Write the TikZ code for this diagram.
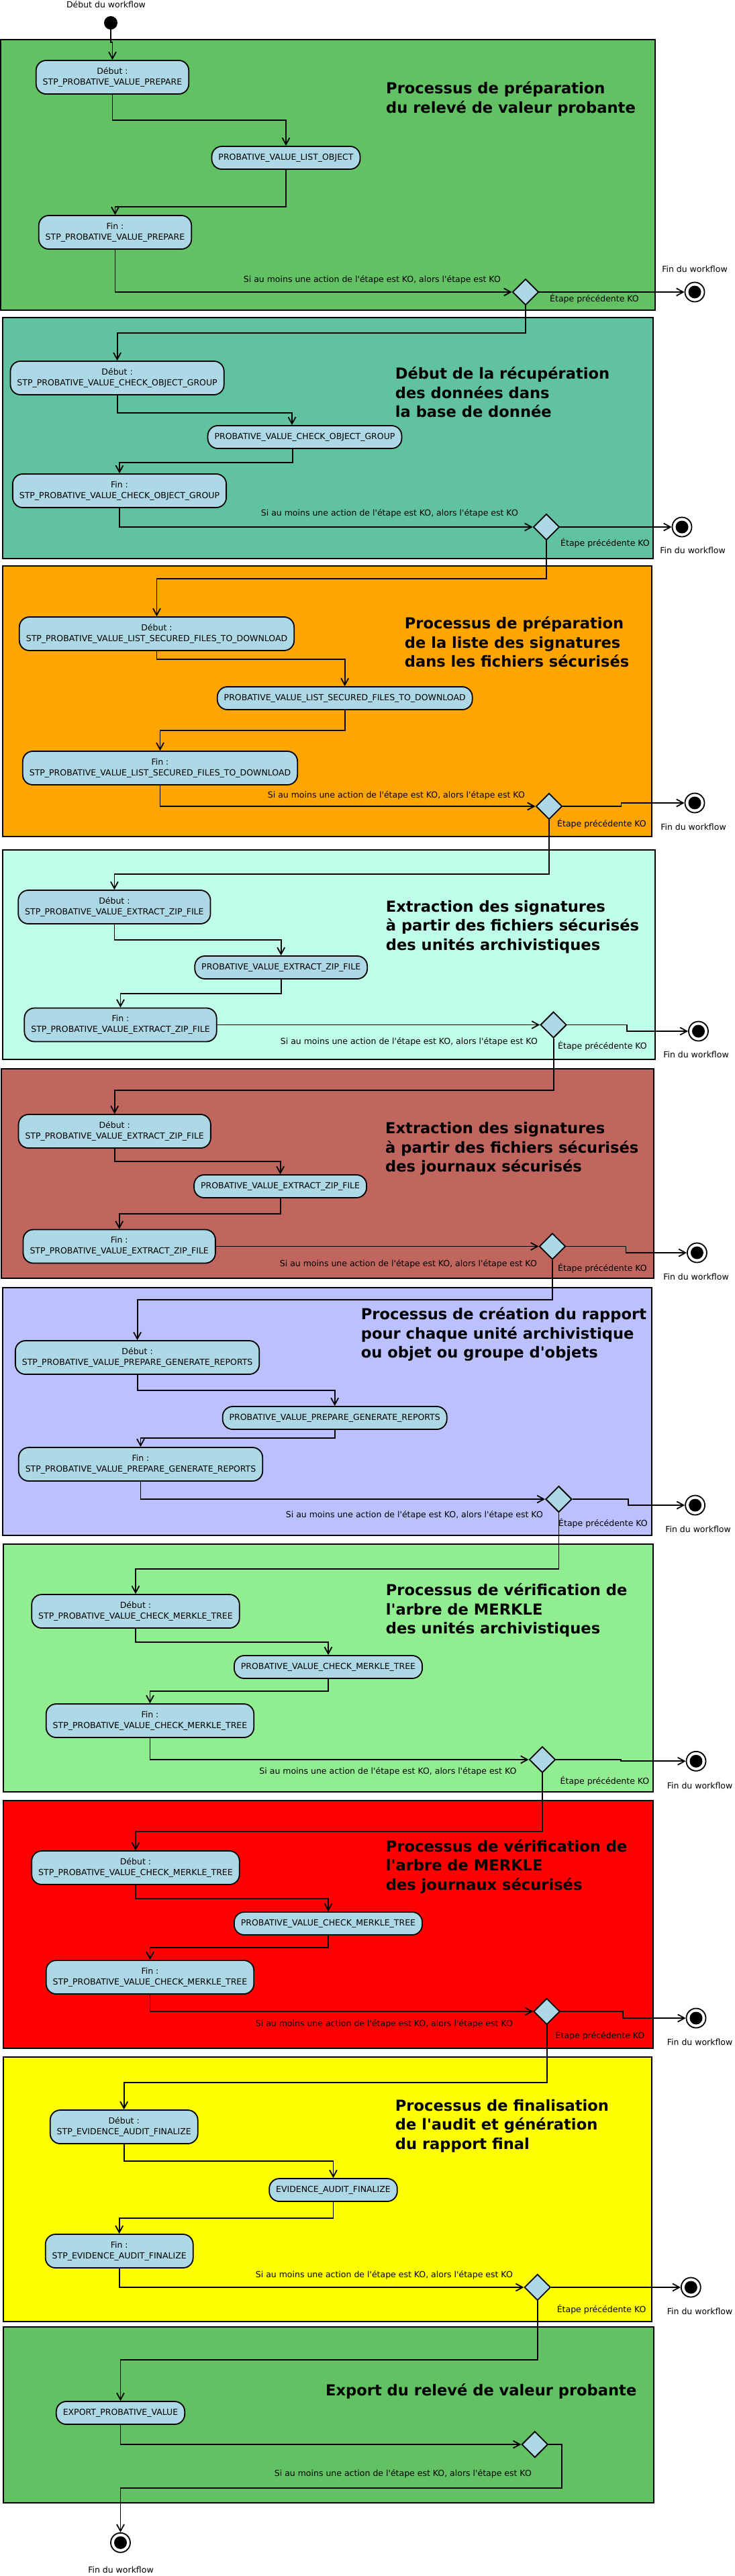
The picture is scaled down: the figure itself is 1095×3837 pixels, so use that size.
\documentclass[tikz,border=0pt]{standalone}
\usepackage{fontspec}
\setmainfont{DejaVu Sans}
\usepackage{xcolor}
\usepackage{tikz}
\usetikzlibrary{positioning,arrows.meta,shapes.geometric}

\definecolor{boxblue}{HTML}{ADD8E6}
\definecolor{vertA}{HTML}{62C162}
\definecolor{turquoise}{HTML}{61C2A2}
\definecolor{orangeA}{HTML}{FFA500}
\definecolor{menthe}{HTML}{BFFFEA}
\definecolor{brique}{HTML}{C1665F}
\definecolor{lavande}{HTML}{BBC1FF}
\definecolor{vertclair}{HTML}{90EE90}
\definecolor{rouge}{HTML}{FF0000}
\definecolor{jaune}{HTML}{FFFF00}

\newcommand{\apo}{\textquotesingle}
\newcommand{\siko}{Si au moins une action de l\apo étape est KO, alors l\apo étape est KO}
\newcommand{\etko}{Étape précédente KO}

\begin{document}
\begin{tikzpicture}[x=1pt,y=-1pt,>={Straight Barb[length=10pt,width=11pt]}]
  \tikzstyle{cadre}=[draw,line width=2pt]
  \tikzstyle{etape}=[draw,line width=1.8pt,fill=boxblue,rounded corners=15pt,align=center,
    inner xsep=10pt,inner ysep=0pt,minimum height=50pt,font=\fontsize{12.5}{16}\selectfont]
  \tikzstyle{action}=[etape,minimum height=34pt]
  \tikzstyle{choix}=[diamond,aspect=1,draw,line width=1.8pt,fill=boxblue,minimum size=39pt,inner sep=0pt]
  \tikzstyle{debut}=[circle,fill=black,minimum size=20pt,inner sep=0pt]
  \tikzstyle{fin}=[circle,draw,line width=1.8pt,fill=white,minimum size=29pt,inner sep=0pt,
    path picture={\fill[black] (path picture bounding box.center) circle (9.5pt);}]
  \tikzstyle{titre}=[anchor=west,align=left,inner sep=0pt,font=\bfseries\fontsize{22.6}{28.5}\selectfont]
  \tikzstyle{note}=[inner sep=0pt,font=\fontsize{12.5}{15}\selectfont]
  \tikzstyle{fleche}=[->,line width=1.8pt]

  \useasboundingbox (0,0) rectangle (1095,3837);

  % cadres des etapes
  \draw[cadre,fill=vertA] (1,59) rectangle (976,462);
  \draw[cadre,fill=turquoise] (3.5,473) rectangle (973,832);
  \draw[cadre,fill=orangeA] (3.5,843) rectangle (971,1246);
  \draw[cadre,fill=menthe] (3.5,1266) rectangle (975.6,1578);
  \draw[cadre,fill=brique] (1.5,1591.7) rectangle (974,1904);
  \draw[cadre,fill=lavande] (3.5,1917.7) rectangle (970.7,2286.7);
  \draw[cadre,fill=vertclair] (4.9,2300) rectangle (972.8,2669);
  \draw[cadre,fill=rouge] (4.9,2681.7) rectangle (972.8,3050.7);
  \draw[cadre,fill=jaune] (4.9,3064) rectangle (971.4,3458);
  \draw[cadre,fill=vertA] (4.9,3466) rectangle (974,3727.7);

  % debut
  \node[note] (dw) at (158,7) {Début du workflow};
  \node[debut] (s) at (165,34) {};

  % etape 1
  \node[titre] (t1) at (575,147.5) {Processus de préparation\\du relevé de valeur probante};
  \node[etape] (a1) at (167.5,115) {Début :\\STP\_PROBATIVE\_VALUE\_PREPARE};
  \node[action] (b1) at (426,235) {PROBATIVE\_VALUE\_LIST\_OBJECT};
  \node[etape] (c1) at (171.5,346) {Fin :\\STP\_PROBATIVE\_VALUE\_PREPARE};
  \node[choix] (k1) at (783,435) {};
  \node[fin] (f1) at (1035,435) {};
  \node[note,anchor=east] (m1) at (746,417) {\siko};
  \node[note,anchor=west] (p1) at (819,445) {\etko};
  \node[note] (w1) at (1035,401) {Fin du workflow};
  \draw[fleche] (s.south) -- ++(0,19) -| (a1.north);
  \draw[fleche] (a1.south) -- (a1.south |- 0,179) -| (b1.north);
  \draw[fleche] (b1.south) -- (b1.south |- 0,308) -| (c1.north);
  \draw[fleche] (c1.south) |- (k1.west);
  \draw[fleche] (k1.east) -- (f1.west);

  % etape 2
  \node[titre] (t2) at (588.7,584.2) {Début de la récupération\\des données dans\\la base de donnée};
  \node[etape] (a2) at (174.6,563) {Début :\\STP\_PROBATIVE\_VALUE\_CHECK\_OBJECT\_GROUP};
  \node[action] (b2) at (454,651) {PROBATIVE\_VALUE\_CHECK\_OBJECT\_GROUP};
  \node[etape] (c2) at (178,731) {Fin :\\STP\_PROBATIVE\_VALUE\_CHECK\_OBJECT\_GROUP};
  \node[choix] (k2) at (814,785) {};
  \node[fin] (f2) at (1016,785) {};
  \node[note,anchor=east] (m2) at (772,765) {\siko};
  \node[note,anchor=west] (p2) at (835,809) {\etko};
  \node[note] (w2) at (1032,820) {Fin du workflow};
  \draw[fleche] (k1.south) -- (k1.south |- 0,496) -| (a2.north);
  \draw[fleche] (a2.south) -- (a2.south |- 0,614.7) -| ([xshift=-19pt]b2.north);
  \draw[fleche] ([xshift=-18pt]b2.south) -- ([xshift=-18pt]b2.south |- 0,689) -| (c2.north);
  \draw[fleche] (c2.south) |- (k2.west);
  \draw[fleche] (k2.east) -- (f2.west);

  % etape 3
  \node[titre] (t3) at (602.7,956.2) {Processus de préparation\\de la liste des signatures\\dans les fichiers sécurisés};
  \node[etape] (a3) at (233.5,944) {Début :\\STP\_PROBATIVE\_VALUE\_LIST\_SECURED\_FILES\_TO\_DOWNLOAD};
  \node[action] (b3) at (513.7,1040) {PROBATIVE\_VALUE\_LIST\_SECURED\_FILES\_TO\_DOWNLOAD};
  \node[etape] (c3) at (238.5,1144) {Fin :\\STP\_PROBATIVE\_VALUE\_LIST\_SECURED\_FILES\_TO\_DOWNLOAD};
  \node[choix] (k3) at (818,1201) {};
  \node[fin] (f3) at (1035,1196) {};
  \node[note,anchor=east] (m3) at (782,1185) {\siko};
  \node[note,anchor=west] (p3) at (830,1227) {\etko};
  \node[note] (w3) at (1033,1232) {Fin du workflow};
  \draw[fleche] (k2.south) -- (k2.south |- 0,862) -| (a3.north);
  \draw[fleche] (a3.south) -- (a3.south |- 0,981.7) -| (b3.north);
  \draw[fleche] (b3.south) -- (b3.south |- 0,1087.7) -| (c3.north);
  \draw[fleche] (c3.south) |- (k3.west);
  \draw[fleche] (k3.east) -- ++(87,0) |- (f3.west);

  % etape 4
  \node[titre] (t4) at (574.7,1380.7) {Extraction des signatures\\à partir des fichiers sécurisés\\des unités archivistiques};
  \node[etape] (a4) at (170.4,1351) {Début :\\STP\_PROBATIVE\_VALUE\_EXTRACT\_ZIP\_FILE};
  \node[action] (b4) at (418.7,1441) {PROBATIVE\_VALUE\_EXTRACT\_ZIP\_FILE};
  \node[etape] (c4) at (179.5,1526.5) {Fin :\\STP\_PROBATIVE\_VALUE\_EXTRACT\_ZIP\_FILE};
  \node[choix] (k4) at (824.6,1526.5) {};
  \node[fin] (f4) at (1040.5,1536) {};
  \node[note,anchor=east] (m4) at (801,1551.7) {\siko};
  \node[note,anchor=west] (p4) at (831,1558) {\etko};
  \node[note] (w4) at (1037,1571) {Fin du workflow};
  \draw[fleche] (k3.south) -- (k3.south |- 0,1301.7) -| (a4.north);
  \draw[fleche] (a4.south) -- (a4.south |- 0,1400) -| (b4.north);
  \draw[fleche] (b4.south) -- (b4.south |- 0,1480) -| (c4.north);
  \draw[fleche] (c4.east) -- (k4.west);
  \draw[fleche] (k4.east) -- ++(89,0) |- (f4.west);

  % etape 5
  \node[titre] (t5) at (574,1711.3) {Extraction des signatures\\à partir des fichiers sécurisés\\des journaux sécurisés};
  \node[etape] (a5) at (170.7,1685) {Début :\\STP\_PROBATIVE\_VALUE\_EXTRACT\_ZIP\_FILE};
  \node[action] (b5) at (417.6,1767) {PROBATIVE\_VALUE\_EXTRACT\_ZIP\_FILE};
  \node[etape] (c5) at (177.7,1856.5) {Fin :\\STP\_PROBATIVE\_VALUE\_EXTRACT\_ZIP\_FILE};
  \node[choix] (k5) at (823,1856.5) {};
  \node[fin] (f5) at (1038.4,1866) {};
  \node[note,anchor=east] (m5) at (800,1882.7) {\siko};
  \node[note,anchor=west] (p5) at (831,1889) {\etko};
  \node[note] (w5) at (1037,1902) {Fin du workflow};
  \draw[fleche] (k4.south) -- (k4.south |- 0,1624) -| (a5.north);
  \draw[fleche] (a5.south) -- (a5.south |- 0,1730) -| (b5.north);
  \draw[fleche] (b5.south) -- (b5.south |- 0,1808) -| (c5.north);
  \draw[fleche] (c5.east) -- (k5.west);
  \draw[fleche] (k5.east) -- ++(89,0) |- (f5.west);

  % etape 6
  \node[titre] (t6) at (537.7,1987.5) {Processus de création du rapport\\pour chaque unité archivistique\\ou objet ou groupe d\apo objets};
  \node[etape] (a6) at (204.6,2022) {Début :\\STP\_PROBATIVE\_VALUE\_PREPARE\_GENERATE\_REPORTS};
  \node[action] (b6) at (498.7,2112) {PROBATIVE\_VALUE\_PREPARE\_GENERATE\_REPORTS};
  \node[etape] (c6) at (209.5,2181) {Fin :\\STP\_PROBATIVE\_VALUE\_PREPARE\_GENERATE\_REPORTS};
  \node[choix] (k6) at (832.4,2233) {};
  \node[fin] (f6) at (1035.6,2242) {};
  \node[note,anchor=east] (m6) at (809,2256.7) {\siko};
  \node[note,anchor=west] (p6) at (832,2269) {\etko};
  \node[note] (w6) at (1040,2278) {Fin du workflow};
  \draw[fleche] (k5.south) -- (k5.south |- 0,1935.7) -| (a6.north);
  \draw[fleche] (a6.south) -- (a6.south |- 0,2070.7) -| (b6.north);
  \draw[fleche] (b6.south) -- (b6.south |- 0,2141.7) -| (c6.north);
  \draw[fleche] (c6.south) |- (k6.west);
  \draw[fleche] (k6.east) -- ++(83.4,0) |- (f6.west);

  % etape 7
  \node[titre] (t7) at (574.7,2398.5) {Processus de vérification de\\l\apo arbre de MERKLE\\des unités archivistiques};
  \node[etape] (a7) at (202,2400) {Début :\\STP\_PROBATIVE\_VALUE\_CHECK\_MERKLE\_TREE};
  \node[action] (b7) at (489,2483) {PROBATIVE\_VALUE\_CHECK\_MERKLE\_TREE};
  \node[etape] (c7) at (223.5,2563) {Fin :\\STP\_PROBATIVE\_VALUE\_CHECK\_MERKLE\_TREE};
  \node[choix] (k7) at (808,2621) {};
  \node[fin] (f7) at (1037,2623.3) {};
  \node[note,anchor=east] (m7) at (769.6,2638.3) {\siko};
  \node[note,anchor=west] (p7) at (834.5,2653) {\etko};
  \node[note] (w7) at (1042.6,2660) {Fin du workflow};
  \draw[fleche] (k6.south) -- (k6.south |- 0,2336.7) -| (a7.north);
  \draw[fleche] (a7.south) -- (a7.south |- 0,2445.7) -| (b7.north);
  \draw[fleche] (b7.south) -- (b7.south |- 0,2519) -| (c7.north);
  \draw[fleche] (c7.south) |- (k7.west);
  \draw[fleche] (k7.east) -- ++(96.6,0) |- (f7.west);

  % etape 8
  \node[titre] (t8) at (574.7,2780.3) {Processus de vérification de\\l\apo arbre de MERKLE\\des journaux sécurisés};
  \node[etape] (a8) at (202,2782) {Début :\\STP\_PROBATIVE\_VALUE\_CHECK\_MERKLE\_TREE};
  \node[action] (b8) at (489,2865) {PROBATIVE\_VALUE\_CHECK\_MERKLE\_TREE};
  \node[etape] (c8) at (223.5,2945) {Fin :\\STP\_PROBATIVE\_VALUE\_CHECK\_MERKLE\_TREE};
  \node[choix] (k8) at (814.6,2996) {};
  \node[fin] (f8) at (1037,3006) {};
  \node[note,anchor=east] (m8) at (764,3015) {\siko};
  \node[note,anchor=west] (p8) at (827.5,3031.7) {\etko};
  \node[note] (w8) at (1042.6,3042) {Fin du workflow};
  \draw[fleche] (k7.south) -- (k7.south |- 0,2727.7) -| (a8.north);
  \draw[fleche] (a8.south) -- (a8.south |- 0,2827.7) -| (b8.north);
  \draw[fleche] (b8.south) -- (b8.south |- 0,2901) -| (c8.north);
  \draw[fleche] (c8.south) |- (k8.west);
  \draw[fleche] (k8.east) -- ++(92.8,0) |- (f8.west);

  % etape 9
  \node[titre] (t9) at (588.7,3166.7) {Processus de finalisation\\de l\apo audit et génération\\du rapport final};
  \node[etape] (a9) at (184.7,3168) {Début :\\STP\_EVIDENCE\_AUDIT\_FINALIZE};
  \node[action] (b9) at (496.5,3262) {EVIDENCE\_AUDIT\_FINALIZE};
  \node[etape] (c9) at (177.7,3353) {Fin :\\STP\_EVIDENCE\_AUDIT\_FINALIZE};
  \node[choix] (k9) at (800.7,3407) {};
  \node[fin] (f9) at (1029.3,3407) {};
  \node[note,anchor=east] (m9) at (764,3388.7) {\siko};
  \node[note,anchor=west] (p9) at (829.6,3440.3) {\etko};
  \node[note] (w9) at (1042.6,3442.3) {Fin du workflow};
  \draw[fleche] (k8.south) -- (k8.south |- 0,3102) -| (a9.north);
  \draw[fleche] (a9.south) -- (a9.south |- 0,3218.7) -| (b9.north);
  \draw[fleche] (b9.south) -- (b9.south |- 0,3303.7) -| (c9.north);
  \draw[fleche] (c9.south) |- (k9.west);
  \draw[fleche] (k9.east) -- (f9.west);

  % etape 10
  \node[titre] (t10) at (485,3561.7) {Export du relevé de valeur probante};
  \node[action] (e10) at (179.5,3594) {EXPORT\_PROBATIVE\_VALUE};
  \node[choix] (k10) at (796.8,3641) {};
  \node[fin] (f10) at (179.5,3787.3) {};
  \node[note,anchor=east] (m10) at (792,3685) {\siko};
  \node[note] (w10) at (180,3827.3) {Fin du workflow};
  \draw[fleche] (k9.south) -- (k9.south |- 0,3515) -| (e10.north);
  \draw[fleche] (e10.south) |- (k10.west);
  \draw[fleche] (k10.east) -- ++(19.6,0) -- ++(0,64.7) -| (f10.north);
\end{tikzpicture}
\end{document}
